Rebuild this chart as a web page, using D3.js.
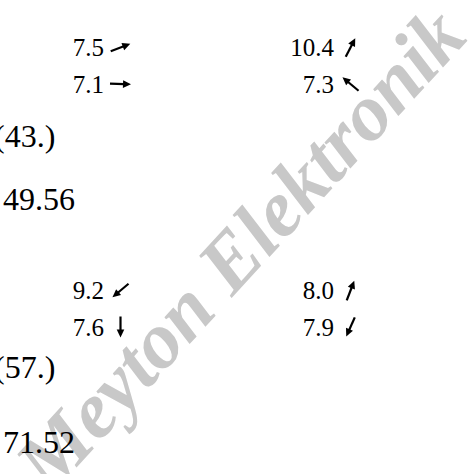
<!DOCTYPE html>
<html>
<head>
<meta charset="utf-8">
<script src="https://cdn.jsdelivr.net/npm/d3@7"></script>
<style>
  html, body { margin: 0; padding: 0; background: #fff; overflow: hidden; }
  svg { display: block; }
</style>
</head>
<body>
<script>
// ---- data ----
const seriesNames = ["Serie 1", "Serie 2"];
const shotValues = [[7.5, 7.1, 10.4, 7.3], [9.2, 7.6, 8.0, 7.9]];
// direction of each shot arrow, degrees counter-clockwise from east
const shotAngles = [[21, -2, 63, 140], [220, 270, 69, 246]];
const rankLabels = ["(43.)", "(57.)"];
const totalValues = [49.56, 71.52];
const watermarkText = "Meyton Elektronik";

// ---- layout ----
const W = 469, H = 474;
const svg = d3.select("body").append("svg").attr("width", W).attr("height", H);

const serif = "'Liberation Serif', 'Times New Roman', Times, serif";

// watermark
svg.append("text")
  .attr("transform", "translate(240,249) rotate(-47.5)")
  .attr("text-anchor", "middle")
  .attr("dominant-baseline", "central")
  .attr("font-family", serif)
  .attr("font-style", "italic")
  .attr("font-weight", "bold")
  .attr("font-size", 80)
  .attr("fill", "#c8c8c8")
  .text(watermarkText);

// scales
const colX = d3.scaleOrdinal().domain([0, 1]).range([104, 334]);       // right edge of number
const rowY = d3.scaleLinear().domain([0, 1]).range([0, 36.5]);         // row offset in block
const blockY = d3.scaleOrdinal().domain([0, 1]).range([56, 299]);      // baseline of first row
const rankY = d3.scaleOrdinal().domain([0, 1]).range([147, 378]);
const totalY = d3.scaleOrdinal().domain([0, 1]).range([210, 453]);

const fmt1 = d3.format(".1f");
const fmt2 = d3.format(".2f");

const arrowLen = 21, headLen = 8, headHalf = 3.8;

seriesNames.forEach((name, b) => {
  const g = svg.append("g").attr("class", "block");
  const shots = shotValues[b].map((v, i) => ({
    v, a: shotAngles[b][i], col: Math.floor(i / 2), row: i % 2
  }));

  g.selectAll("text.shot").data(shots).join("text")
    .attr("class", "shot")
    .attr("x", d => colX(d.col))
    .attr("y", d => blockY(b) + rowY(d.row))
    .attr("text-anchor", "end")
    .attr("font-family", serif)
    .attr("font-size", 25)
    .attr("fill", "#000")
    .text(d => fmt1(d.v));

  const arrows = g.selectAll("g.arrow").data(shots).join("g")
    .attr("class", "arrow")
    .attr("transform", d => {
      const cx = colX(d.col) + 16.5;
      const cy = blockY(b) + rowY(d.row) - 8.5;
      return `translate(${cx},${cy}) rotate(${-d.a})`;
    });
  arrows.append("line")
    .attr("x1", -arrowLen / 2).attr("y1", 0)
    .attr("x2", arrowLen / 2 - headLen + 1).attr("y2", 0)
    .attr("stroke", "#000").attr("stroke-width", 2.2);
  arrows.append("path")
    .attr("d", `M${arrowLen / 2},0 L${arrowLen / 2 - headLen},${-headHalf} L${arrowLen / 2 - headLen},${headHalf}Z`)
    .attr("fill", "#000");

  g.append("text")
    .attr("x", -6).attr("y", rankY(b))
    .attr("font-family", serif).attr("font-size", 32).attr("fill", "#000")
    .text(rankLabels[b]);
  g.append("text")
    .attr("x", 3).attr("y", totalY(b))
    .attr("font-family", serif).attr("font-size", 32).attr("fill", "#000")
    .text(fmt2(totalValues[b]));
});
</script>
</body>
</html>
